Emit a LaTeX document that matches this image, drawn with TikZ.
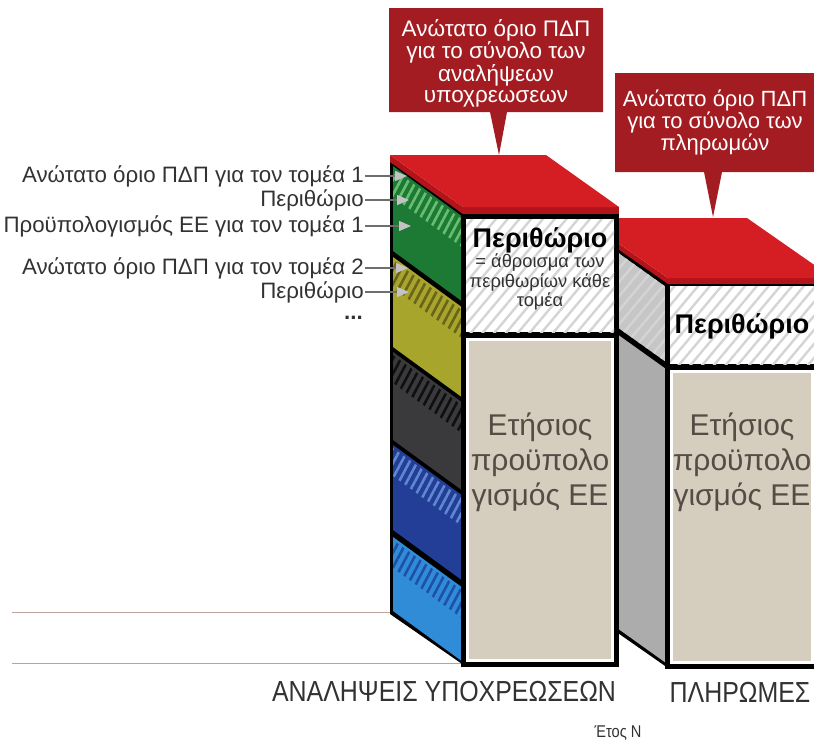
\documentclass[tikz,border=0pt]{standalone}
\usepackage{fontspec}
\setmainfont{Liberation Sans}
\newfontfamily\narrowfont[FakeStretch=0.86]{Liberation Sans}
\usetikzlibrary{patterns.meta,arrows.meta}
\definecolor{calloutred}{RGB}{163,28,33}
\definecolor{topred}{RGB}{212,30,36}
\definecolor{topreddark}{RGB}{178,20,26}
\definecolor{beige}{RGB}{213,206,190}
\definecolor{labelgray}{RGB}{50,50,50}
\definecolor{beigetext}{RGB}{85,76,70}
\definecolor{leadergray}{RGB}{110,110,110}
\definecolor{arrowgray}{RGB}{195,195,195}
\definecolor{secgreen}{RGB}{28,122,52}
\definecolor{secgreenhatch}{RGB}{105,190,115}
\definecolor{secolive}{RGB}{168,165,45}
\definecolor{secolivehatch}{RGB}{105,100,25}
\definecolor{secdark}{RGB}{58,58,60}
\definecolor{secdarkhatch}{RGB}{15,15,15}
\definecolor{secnavy}{RGB}{35,62,150}
\definecolor{secnavyhatch}{RGB}{95,135,210}
\definecolor{secblue}{RGB}{48,140,215}
\definecolor{secbluehatch}{RGB}{30,80,170}
\definecolor{sidegray}{RGB}{172,172,172}
\definecolor{sidehatchbg}{RGB}{198,198,198}
\definecolor{hatchline}{RGB}{212,212,212}
\definecolor{groundline}{RGB}{190,160,160}
\begin{document}
\begin{tikzpicture}[x=1pt,y=-1pt,
  lbl/.style={anchor=east, inner sep=1pt, text=labelgray, font=\fontsize{22.3}{25}\selectfont},
  leader/.style={draw=leadergray, line width=1.3pt, -{Triangle[length=12pt,width=10pt,color=arrowgray]}},
  callout/.style={fill=calloutred},
  callouttext/.style={text=white, align=center, inner sep=0pt},
  whitehatch/.style={preaction={fill=white}, pattern={Lines[angle=50,distance=9pt,line width=2.4pt]}, pattern color=hatchline},
  grayhatch/.style={preaction={fill=sidehatchbg}, pattern={Lines[angle=50,distance=9pt,line width=2.4pt]}, pattern color=hatchline},
  beigetxt/.style={text=beigetext, align=center, inner sep=0pt, font=\fontsize{30}{35}\selectfont},
  margintitle/.style={inner sep=0pt, font=\fontsize{27}{30}\selectfont\bfseries},
  bottomlbl/.style={text=labelgray, inner sep=0pt, font=\narrowfont\fontsize{29}{32}\selectfont},
  ground/.style={draw=groundline, line width=1pt}
]
\useasboundingbox (0,0) rectangle (814,740);
\clip (0,0) rectangle (814,740);

% ground lines
\coordinate (g1a) at (12,612); \coordinate (g1b) at (392,612);
\coordinate (g2a) at (12,663); \coordinate (g2b) at (463,663);
\draw[ground] (g1a) -- (g1b);
\draw[ground] (g2a) -- (g2b);

% ===== right column (payments) =====
% side face
\fill[black] (582,223) -- (668,283) -- (668,668) -- (582,608) -- cycle;
\fill[grayhatch] (582,227) -- (666,287) -- (666,362) -- (582,302) -- cycle;
\fill[sidegray] (582,309) -- (666,369) -- (666,663) -- (582,603) -- cycle;
% front face
\fill[black] (665,280) rectangle (820,669);
\fill[whitehatch] (670,286) rectangle (820,364);
\fill[white] (670,370) rectangle (814,664);
\fill[beige] (673,373) rectangle (811,661);
% red top
\fill[topreddark] (582,218) -- (668,278) -- (668,284) -- (582,224) -- cycle;
\fill[topreddark] (668,278) rectangle (840,284);
\fill[topred] (582,218) -- (747,218) -- (833,278) -- (668,278) -- cycle;

% ===== left column (commitments) =====
\fill[black] (390,160) -- (465,213) -- (465,666) -- (390,614) -- cycle;
\foreach \t/\b/\c/\h in {166/251/secgreen/secgreenhatch,
                         257/347/secolive/secolivehatch,
                         352/440/secdark/secdarkhatch,
                         445/530/secnavy/secnavyhatch,
                         537/611/secblue/secbluehatch}{
  \fill[\c] (393,\t) -- (463,{\t+51}) -- (463,{\b+51}) -- (393,\b) -- cycle;
  \fill[pattern={Lines[angle=62,distance=7pt,line width=2.6pt]}, pattern color=\h]
    (393,{\t+3}) -- (463,{\t+54}) -- (463,{\t+82}) -- (393,{\t+31}) -- cycle;
}
% front face
\fill[black] (461,213) rectangle (619,667);
\fill[whitehatch] (466,219) rectangle (614,332);
\fill[white] (466,338) rectangle (614,662);
\fill[beige] (469,341) rectangle (611,659);
% red top
\fill[topreddark] (390,155) -- (463,207) -- (463,214) -- (390,162) -- cycle;
\fill[topreddark] (463,207) rectangle (619,214);
\fill[topred] (390,155) -- (546,155) -- (619,207) -- (463,207) -- cycle;

% texts on fronts
\node[margintitle] (mL) at (540,240) {Περιθώριο};
\node[inner sep=0pt, align=center, text=labelgray, font=\fontsize{18.3}{19.5}\selectfont] (mLsub) at (540,282)
  {= άθροισμα των\\περιθωρίων κάθε\\τομέα};
\node[margintitle] (mR) at (742,326) {Περιθώριο};
\node[beigetxt] (bL) at (540,462) {Ετήσιος\\προϋπολο\\γισμός ΕΕ};
\node[beigetxt] (bR) at (742,462) {Ετήσιος\\προϋπολο\\γισμός ΕΕ};

% ===== callouts =====
\fill[callout] (389,8) -- (603,8) -- (603,112) -- (507,112) -- (499,155) -- (490,112) -- (389,112) -- cycle;
\node[callouttext, font=\fontsize{22.5}{20.5}\selectfont] (c1) at (496,63)
  {Ανώτατο όριο ΠΔΠ\\για το σύνολο των\\αναλήψεων\\υποχρεωσεων};
\fill[callout] (615,73) -- (820,73) -- (820,172) -- (722,172) -- (713,217) -- (704,172) -- (615,172) -- cycle;
\node[callouttext, font=\fontsize{22}{22}\selectfont] (c2) at (715,122)
  {Ανώτατο όριο ΠΔΠ\\για το σύνολο των\\πληρωμών};

% ===== side labels with leaders =====
\node[lbl] (L1) at (365,176) {Ανώτατο όριο ΠΔΠ για τον τομέα 1};
\node[lbl] (L2) at (365,200) {Περιθώριο};
\node[lbl] (L3) at (365,226) {Προϋπολογισμός ΕΕ για τον τομέα 1};
\node[lbl] (L4) at (365,268) {Ανώτατο όριο ΠΔΠ για τον τομέα 2};
\node[lbl] (L5) at (365,292) {Περιθώριο};
\node[anchor=east, inner sep=0pt, text=labelgray, font=\fontsize{22.3}{25}\selectfont\bfseries] (L6) at (363,318) {...};
\coordinate (t1) at (407,176);
\coordinate (t2) at (409,200);
\coordinate (t3) at (411,226);
\coordinate (t4) at (408,268);
\coordinate (t5) at (409,292);
\draw[leader] (L1) -- (t1);
\draw[leader] (L2) -- (t2);
\draw[leader] (L3) -- (t3);
\draw[leader] (L4) -- (t4);
\draw[leader] (L5) -- (t5);

% ===== bottom labels =====
\node[bottomlbl] (bc) at (444,692) {ΑΝΑΛΗΨΕΙΣ ΥΠΟΧΡΕΩΣΕΩΝ};
\node[bottomlbl] (bp) at (740,692) {ΠΛΗΡΩΜΕΣ};
\node[text=labelgray, inner sep=0pt, font=\narrowfont\fontsize{17}{20}\selectfont] (yr) at (618,733) {Έτος Ν};
\end{tikzpicture}
\end{document}
